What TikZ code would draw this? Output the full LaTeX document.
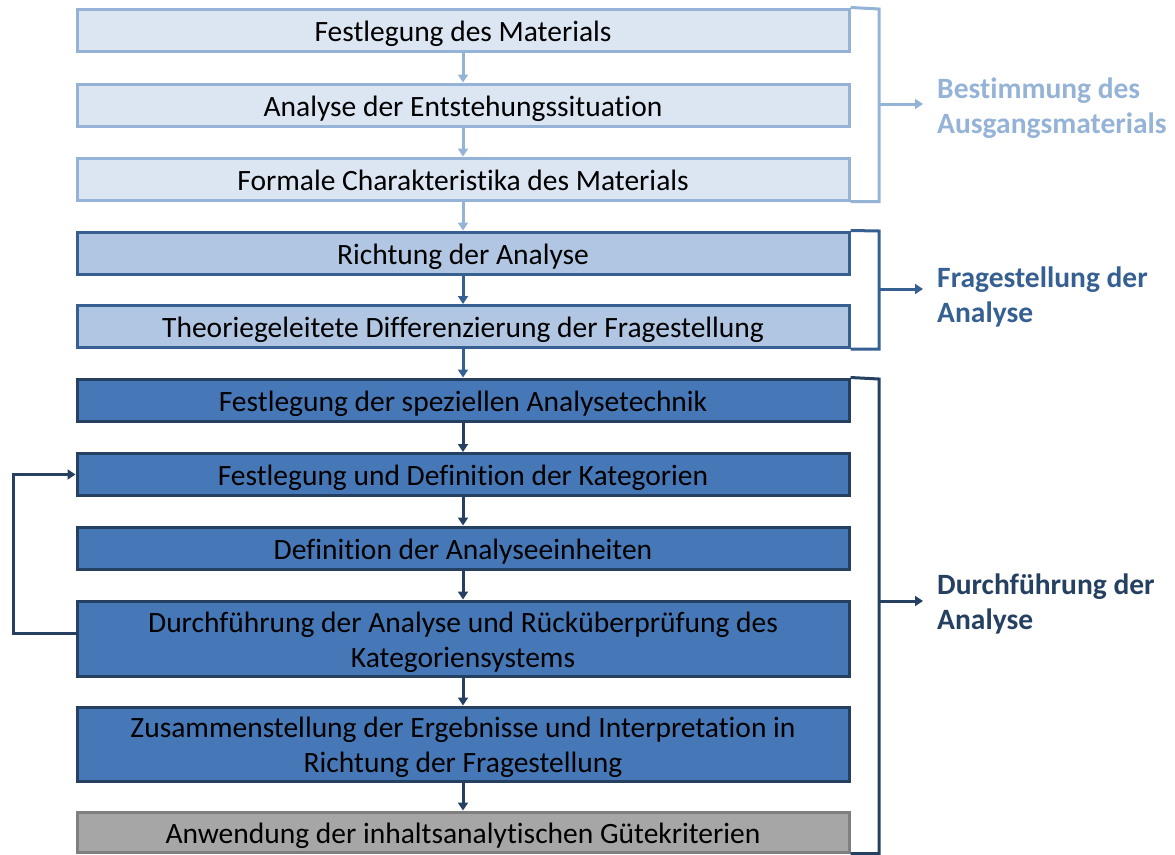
\documentclass[tikz,border=0pt]{standalone}
\usepackage{fontspec}
\setmainfont{Carlito}[Ligatures={NoCommon}]
\usetikzlibrary{arrows.meta}
\definecolor{lfill}{HTML}{DCE6F2}
\definecolor{lline}{HTML}{95B3D7}
\definecolor{mfill}{HTML}{B0C6E2}
\definecolor{mline}{HTML}{376092}
\definecolor{dfill}{HTML}{4677B6}
\definecolor{dline}{HTML}{254061}
\definecolor{gfill}{HTML}{A6A6A6}
\definecolor{gline}{HTML}{7F7F7F}
\tikzset{
  x=1pt,y=1pt,
  box/.style={rectangle, minimum width=772pt, inner sep=0pt, line width=3pt, align=center,
    font=\fontsize{29.5}{35}\selectfont, text=black, text height=29pt, text depth=7pt},
  twoline/.style={text height=64pt, text depth=7pt},
  lbox/.style={box, fill=lfill, draw=lline, minimum height=42pt},
  mbox/.style={box, fill=mfill, draw=mline, minimum height=42pt},
  dbox/.style={box, fill=dfill, draw=dline, minimum height=42pt},
  gbox/.style={box, fill=gfill, draw=gline, minimum height=40pt},
  flow/.style={line width=3pt, -{Triangle[length=8pt,width=10pt]}},
  brace/.style={line width=3pt},
  lab/.style={anchor=west, align=left, inner sep=0pt, font=\fontsize{29.5}{35}\selectfont\bfseries},
}
\begin{document}
\begin{tikzpicture}
\useasboundingbox (0,0) rectangle (1175,-854);
\node[lbox] (b1) at (463,-30) {Festlegung des Materials};
\node[lbox] (b2) at (463,-105) {Analyse der Entstehungssituation};
\node[lbox] (b3) at (463,-179) {Formale Charakteristika des Materials};
\node[mbox] (b4) at (463,-253) {Richtung der Analyse};
\node[mbox] (b5) at (463,-326.5) {Theoriegeleitete Differenzierung der Fragestellung};
\node[dbox] (b6) at (463,-400) {Festlegung der speziellen Analysetechnik};
\node[dbox] (b7) at (463,-474.5) {Festlegung und Definition der Kategorien};
\node[dbox] (b8) at (463,-548) {Definition der Analyseeinheiten};
\node[dbox, twoline, minimum height=75pt] (b9) at (463,-638.5) {Durchführung der Analyse und Rücküberprüfung des\\Kategoriensystems};
\node[dbox, twoline, minimum height=74pt] (b10) at (463,-744) {Zusammenstellung der Ergebnisse und Interpretation in\\Richtung der Fragestellung};
\node[gbox] (b11) at (463,-832) {Anwendung der inhaltsanalytischen Gütekriterien};

\draw[flow, draw=lline] (b1) -- (b2);
\draw[flow, draw=lline] (b2) -- (b3);
\draw[flow, draw=lline] (b3) -- (b4);
\draw[flow, draw=mline] (b4) -- (b5);
\draw[flow, draw=mline] (b5) -- (b6);
\draw[flow, draw=dline] (b6) -- (b7);
\draw[flow, draw=dline] (b7) -- (b8);
\draw[flow, draw=dline] (b8) -- (b9);
\draw[flow, draw=dline] (b9) -- (b10);
\draw[flow, draw=dline] (b10) -- (b11);

\draw[flow, draw=dline] ([yshift=5pt]b9.west) -- (13,-633.5) |- (b7.west);

\draw[brace, draw=lline] (b1.north east) -- (879,-9) |- (b3.south east);
\draw[brace, draw=mline] (b4.north east) -- (879,-231) |- (b5.south east);
\draw[brace, draw=dline] (b6.north east) -- (879,-379) |- (b11.south east);

\node[lab, text=lline] (l1) at (937,-108) {Bestimmung des\\Ausgangsmaterials};
\node[lab, text=mline] (l2) at (937,-297) {Fragestellung der\\Analyse};
\node[lab, text=dline] (l3) at (937,-604) {Durchführung der\\Analyse};

\draw[flow, draw=lline] (879,-104) -- ([xshift=-14pt]l1.west |- 0,-104);
\draw[flow, draw=mline] (879,-289) -- ([xshift=-14pt]l2.west |- 0,-289);
\draw[flow, draw=dline] (879,-601) -- ([xshift=-14pt]l3.west |- 0,-601);
\end{tikzpicture}
\end{document}
